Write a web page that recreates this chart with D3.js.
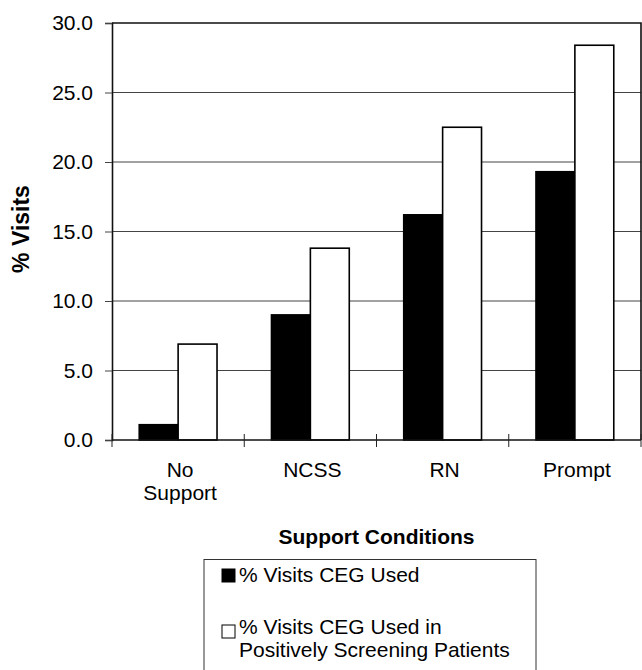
<!DOCTYPE html>
<html>
<head>
<meta charset="utf-8">
<script src="https://cdn.jsdelivr.net/npm/d3@7"></script>
<style>
  html, body { margin: 0; padding: 0; background: #fff; }
  svg { display: block; font-family: Arial, "Liberation Sans", Helvetica, sans-serif; }
</style>
</head>
<body>
<svg id="chart" width="642" height="670"></svg>
<script>
// ---- data ----
const categories = ["No Support", "NCSS", "RN", "Prompt"];
const categoryLines = [["No", "Support"], ["NCSS"], ["RN"], ["Prompt"]];
const seriesNames = ["% Visits CEG Used", "% Visits CEG Used in Positively Screening Patients"];
const legendLines = [["% Visits CEG Used"], ["% Visits CEG Used in", "Positively Screening Patients"]];
const ceqUsed = [1.1, 9.0, 16.2, 19.3];
const ceqUsedPositive = [6.9, 13.8, 22.5, 28.4];
const yTickValues = [0, 5, 10, 15, 20, 25, 30];
const seriesFill = ["#000000", "#ffffff"];

// ---- layout ----
const svg = d3.select("#chart");
const plotLeft = 112, plotRight = 641, plotTop = 23, plotBottom = 440;

const x = d3.scaleBand().domain(categories).range([plotLeft, plotRight]).paddingInner(0).paddingOuter(0);
const x1 = d3.scaleBand().domain([0, 1]).range([0, x.bandwidth()]).paddingInner(0).paddingOuter(0.7);
const y = d3.scaleLinear().domain([0, 30]).range([plotBottom, plotTop]);

// gridlines
svg.append("g").selectAll("line").data(yTickValues.filter(d => d > 0 && d < 30)).join("line")
  .attr("x1", plotLeft).attr("x2", plotRight)
  .attr("y1", d => y(d)).attr("y2", d => y(d))
  .attr("stroke", "#444").attr("stroke-width", 1);

// frame (top, right)
svg.append("path")
  .attr("d", `M${plotLeft},${y(30)}H${plotRight}V${plotBottom}`)
  .attr("fill", "none").attr("stroke", "#111").attr("stroke-width", 1.6);

// bars
const rows = categories.map((c, i) => ({ c, v: [ceqUsed[i], ceqUsedPositive[i]] }));
const groups = svg.append("g").selectAll("g").data(rows).join("g")
  .attr("transform", d => `translate(${x(d.c)},0)`);
groups.selectAll("rect").data(d => d.v.map((v, k) => ({ v, k }))).join("rect")
  .attr("x", d => x1(d.k))
  .attr("width", x1.bandwidth())
  .attr("y", d => y(d.v))
  .attr("height", d => y(0) - y(d.v))
  .attr("fill", d => seriesFill[d.k])
  .attr("stroke", "#000").attr("stroke-width", 1.6);

// y axis
const yAxis = svg.append("g").attr("transform", `translate(${plotLeft},0)`)
  .call(d3.axisLeft(y).tickValues(yTickValues).tickFormat(d3.format(".1f")).tickSize(7).tickPadding(12));
yAxis.select(".domain").attr("stroke", "#111").attr("stroke-width", 1.6);
yAxis.selectAll(".tick line").attr("stroke", "#444");
yAxis.selectAll("text").attr("font-size", 21).attr("fill", "#000")
  .attr("font-family", "Arial, 'Liberation Sans', sans-serif");

// x axis baseline + cross ticks at category boundaries
svg.append("line").attr("x1", plotLeft).attr("x2", plotRight).attr("y1", y(0)).attr("y2", y(0))
  .attr("stroke", "#111").attr("stroke-width", 1.6);
const boundaries = categories.map(c => x(c)).concat([x.range()[1]]);
svg.append("g").selectAll("line").data(boundaries).join("line")
  .attr("x1", d => d).attr("x2", d => d)
  .attr("y1", y(0) - 6).attr("y2", y(0) + 7)
  .attr("stroke", "#222").attr("stroke-width", 1);

// category labels
const catText = svg.append("g").selectAll("text").data(categories).join("text")
  .attr("x", d => x(d) + x.bandwidth() / 2 + 2)
  .attr("y", 477)
  .attr("text-anchor", "middle")
  .attr("font-size", 21).attr("fill", "#000");
catText.each(function(d, i) {
  d3.select(this).selectAll("tspan").data(categoryLines[i]).join("tspan")
    .attr("x", x(d) + x.bandwidth() / 2 + 2)
    .attr("dy", (t, j) => j === 0 ? 0 : 23)
    .text(t => t);
});

// axis titles
svg.append("text")
  .attr("transform", `translate(29,229) rotate(-90)`)
  .attr("text-anchor", "middle")
  .attr("font-size", 23).attr("font-weight", "bold")
  .text("% Visits");

svg.append("text")
  .attr("x", (plotLeft + plotRight) / 2).attr("y", 544)
  .attr("text-anchor", "middle")
  .attr("font-size", 21).attr("font-weight", "bold")
  .text("Support Conditions");

// legend
const legend = svg.append("g");
legend.append("rect")
  .attr("x", 204).attr("y", 559.5).attr("width", 332).attr("height", 130)
  .attr("fill", "none").attr("stroke", "#333").attr("stroke-width", 1);
const legendItemY = [569, 625];
const legendTextY = [582, 634];
seriesNames.forEach((name, k) => {
  legend.append("rect")
    .attr("x", 222).attr("y", legendItemY[k]).attr("width", 13).attr("height", 13)
    .attr("fill", seriesFill[k]).attr("stroke", "#000").attr("stroke-width", 1);
  const t = legend.append("text").attr("x", 239).attr("y", legendTextY[k])
    .attr("font-size", 21).attr("fill", "#000");
  t.selectAll("tspan").data(legendLines[k]).join("tspan")
    .attr("x", 239)
    .attr("dy", (s, j) => j === 0 ? 0 : 23)
    .text(s => s);
});
</script>
</body>
</html>
